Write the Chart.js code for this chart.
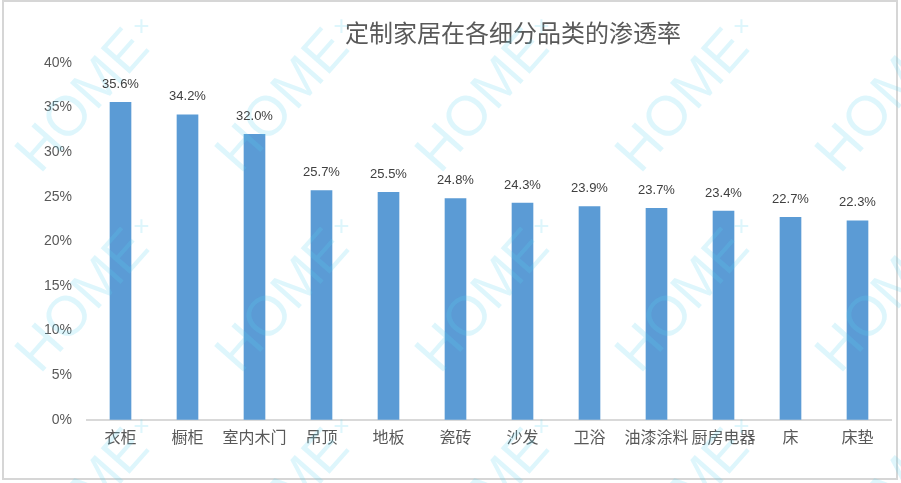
<!DOCTYPE html>
<html>
<head>
<meta charset="utf-8">
<script src="https://cdn.jsdelivr.net/npm/chart.js@4"></script>
<style>
  body { margin: 0; background: #fff; }
  #wrap { width: 901px; height: 483px; position: relative; }
</style>
</head>
<body>
<div id="wrap"><canvas id="myChart"></canvas></div>
<script>
// data
const categories = ['衣柜', '橱柜', '室内木门', '吊顶', '地板', '瓷砖', '沙发', '卫浴', '油漆涂料', '厨房电器', '床', '床垫'];
const penetration = [35.6, 34.2, 32.0, 25.7, 25.5, 24.8, 24.3, 23.9, 23.7, 23.4, 22.7, 22.3];
const yTicks = [0, 5, 10, 15, 20, 25, 30, 35, 40];
const chartTitle = '定制家居在各细分品类的渗透率';

const cjk = '"Noto Sans CJK SC", "Liberation Sans", sans-serif';

// frame + title + watermark + value labels
const decor = {
    id: 'decor',
    beforeDraw(chart) {
        const ctx = chart.ctx;
        ctx.save();
        ctx.fillStyle = '#fff';
        ctx.fillRect(0, 0, chart.width, chart.height);
        ctx.strokeStyle = '#d6d6d6';
        ctx.lineWidth = 2;
        ctx.strokeRect(3, 1, 894, 478);
        ctx.fillStyle = '#595959';
        ctx.font = '24px ' + cjk;
        ctx.textAlign = 'center';
        ctx.textBaseline = 'middle';
        ctx.fillText(chartTitle, 513, 33);
        ctx.restore();
    },
    afterDatasetsDraw(chart) {
        const ctx = chart.ctx;
        ctx.save();
        // watermark
        const ang = -48.5 * Math.PI / 180;
        ctx.fillStyle = 'rgba(90, 210, 240, 0.2)';
        for (let i = 0; i < 5; i++) {
            for (let j = 0; j < 3; j++) {
                const ox = 40 + 200 * i, oy = 175 + 200 * j;
                ctx.save();
                ctx.translate(ox, oy);
                ctx.rotate(ang);
                ctx.font = '56px "Liberation Sans", sans-serif';
                ctx.textBaseline = 'alphabetic';
                ctx.textAlign = 'left';
                ctx.fillText('HOME', 0, 0);
                const w = ctx.measureText('HOME').width;
                ctx.restore();
                // upright plus sign
                const px = ox + Math.cos(ang) * (w + 10) + Math.sin(-ang) * -22;
                const py = oy + Math.sin(ang) * (w + 10) + Math.cos(ang) * -22;
                ctx.font = '28px "Liberation Sans", sans-serif';
                ctx.textAlign = 'center';
                ctx.textBaseline = 'middle';
                ctx.fillText('+', px, py);
            }
        }
        // value labels
        const meta = chart.getDatasetMeta(0);
        ctx.fillStyle = '#404040';
        ctx.font = '13px "Liberation Sans", sans-serif';
        ctx.textAlign = 'center';
        ctx.textBaseline = 'middle';
        meta.data.forEach((bar, i) => {
            ctx.fillText(penetration[i].toFixed(1) + '%', bar.x, bar.y - 18);
        });
        ctx.restore();
    }
};

// config
const config = {
    type: 'bar',
    data: {
        labels: categories,
        datasets: [{
            label: '渗透率',
            data: penetration,
            backgroundColor: '#5b9bd5',
            borderWidth: 0,
            barThickness: 21
        }]
    },
    options: {
        responsive: true,
        maintainAspectRatio: false,
        animation: false,
        layout: {
            padding: { top: 63, right: 10, bottom: 28, left: 0 }
        },
        plugins: {
            legend: { display: false },
            title: { display: false },
            tooltip: { enabled: false }
        },
        scales: {
            x: {
                grid: { display: false, drawTicks: false },
                border: { display: true, color: '#d9d9d9', width: 2 },
                ticks: {
                    color: '#595959',
                    font: { size: 16, family: cjk },
                    padding: 8,
                    maxRotation: 0,
                    autoSkip: false
                }
            },
            y: {
                min: 0,
                max: 40,
                afterFit(scale) { scale.width = 87; },
                afterBuildTicks(scale) {
                    scale.ticks = yTicks.map(v => ({ value: v }));
                },
                grid: { display: false, drawTicks: false },
                border: { display: false },
                ticks: {
                    color: '#595959',
                    font: { size: 14, family: '"Liberation Sans", sans-serif' },
                    padding: 15,
                    callback: v => v + '%'
                }
            }
        }
    },
    plugins: [decor]
};

// render
const myChart = new Chart(document.getElementById('myChart'), config);
</script>
</body>
</html>
